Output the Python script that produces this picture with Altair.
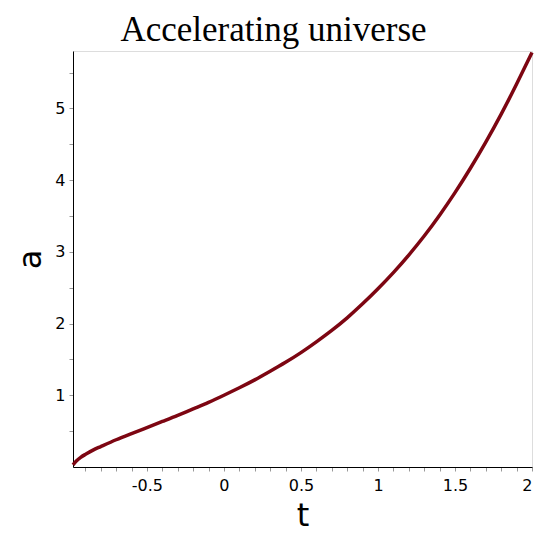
import altair as alt
import pandas as pd

t_vals = [-0.98, -0.96, -0.93, -0.9, -0.85, -0.8, -0.7, -0.6, -0.5, -0.4, -0.3, -0.2, -0.1,
          0.0, 0.1, 0.2, 0.3, 0.4, 0.5, 0.6, 0.7, 0.8, 0.9, 1.0, 1.1, 1.2, 1.3, 1.4, 1.5,
          1.6, 1.7, 1.8, 1.9, 2.0]
a_vals = [0.03, 0.08, 0.135, 0.175, 0.235, 0.285, 0.38, 0.465, 0.55, 0.635, 0.72, 0.81, 0.90,
          1.0, 1.105, 1.215, 1.335, 1.46, 1.595, 1.745, 1.905, 2.08, 2.275, 2.485, 2.71, 2.955,
          3.22, 3.51, 3.825, 4.165, 4.53, 4.92, 5.34, 5.78]

x_ticks = [round(-0.9 + 0.1 * i, 1) for i in range(30)]
y_ticks = [round(0.5 * i, 1) for i in range(1, 12)]

df = pd.DataFrame({"t": t_vals, "a": a_vals})

label_x = "(abs(datum.value*2 - round(datum.value*2)) < 0.001) ? toString(round(datum.value*10)/10) : ''"
label_y = "(abs(datum.value - round(datum.value)) < 0.001) ? toString(round(datum.value)) : ''"

chart = alt.Chart(df).mark_line(
    color="#7d0612", strokeWidth=3.5, interpolate="natural"
).encode(
    x=alt.X("t:Q", scale=alt.Scale(domain=[-0.98, 2.0], nice=False, zero=False),
            axis=alt.Axis(title="t", values=x_ticks, labelExpr=label_x, labelOverlap=False,
                          labelFontSize=16, labelFont="DejaVu Sans", labelColor="black",
                          tickSize=4, tickColor="#999999", labelPadding=6,
                          domainColor="black", grid=False,
                          titleFont="DejaVu Sans", titleFontSize=32, titleFontWeight="normal",
                          titleColor="black", titlePadding=7)),
    y=alt.Y("a:Q", scale=alt.Scale(domain=[0, 5.8], nice=False, zero=False),
            axis=alt.Axis(title="a", values=y_ticks, labelExpr=label_y, labelOverlap=False,
                          labelFontSize=16, labelFont="DejaVu Sans", labelColor="black",
                          tickSize=4, tickColor="#999999", labelPadding=4,
                          domainColor="black", grid=False,
                          titleFont="DejaVu Sans", titleFontSize=32, titleFontWeight="normal",
                          titleColor="black", titlePadding=7)),
).properties(
    width=459,
    height=416,
    title=alt.TitleParams("Accelerating universe", font="Liberation Serif", fontSize=35,
                          fontWeight="normal", color="black", anchor="middle", dx=-29, dy=7,
                          offset=4),
    autosize=alt.AutoSizeParams(type="none"),
    padding={"left": 65, "top": 43, "right": 5, "bottom": 70},
).configure_view(
    stroke="black", strokeWidth=1
).configure(background="white")

chart.save("out.html", embed_options={"renderer": "svg", "actions": False})
